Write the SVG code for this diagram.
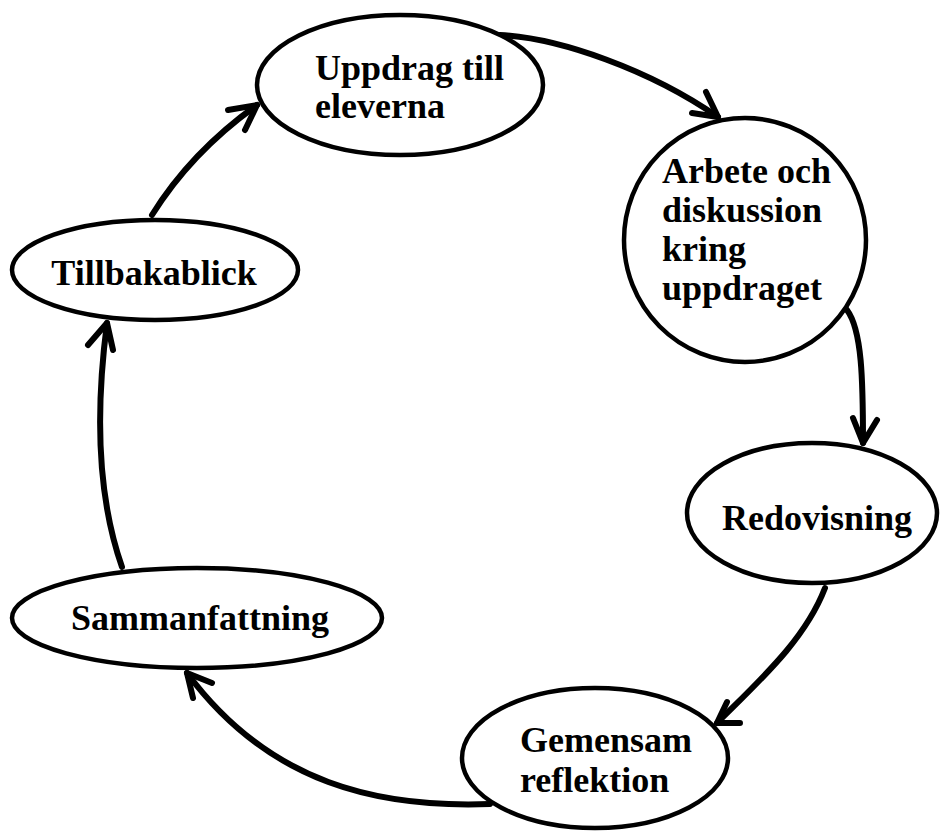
<svg xmlns="http://www.w3.org/2000/svg" width="941" height="831" viewBox="0 0 941 831">
<style>
.node{fill:#fff;stroke:#000;stroke-width:4.5}
.lbl{font-family:"Liberation Serif","Times New Roman",serif;font-weight:bold;font-size:36px;fill:#000}
.c{text-anchor:middle}
.edge{fill:none;stroke:#000;stroke-width:6;stroke-linecap:round;stroke-linejoin:round}
</style>
<rect width="941" height="831" fill="#fff"/>
<g id="connectors">
<path class="edge" d="M500,35 C560,38 650,70 718,117"/>
<path class="edge" d="M706,92 L718,117 L692,113"/>
<path class="edge" d="M847,310 C862,330 863,380 863,443"/>
<path class="edge" d="M853,418 L863,443 L877,420"/>
<path class="edge" d="M825,588 C805,640 760,680 717,723"/>
<path class="edge" d="M727,702 L717,723 L740,723"/>
<path class="edge" d="M490,804 C380,808 270,785 187,673"/>
<path class="edge" d="M193,698 L187,673 L212,683"/>
<path class="edge" d="M122,567 C102,510 93,430 107,323"/>
<path class="edge" d="M88,345 L107,323 L113,350"/>
<path class="edge" d="M152,215 C180,170 215,135 257,105"/>
<path class="edge" d="M228,110 L257,105 L245,130"/>
</g>
<g id="n1">
<ellipse class="node" cx="400" cy="85" rx="143" ry="70"/>
<text class="lbl" x="315" y="80">Uppdrag till</text>
<text class="lbl" x="315" y="118">eleverna</text>
</g>
<g id="n2">
<ellipse class="node" cx="745" cy="240" rx="121" ry="122"/>
<text class="lbl" x="662" y="183">Arbete och</text>
<text class="lbl" x="662" y="222">diskussion</text>
<text class="lbl" x="662" y="261">kring</text>
<text class="lbl" x="662" y="300">uppdraget</text>
</g>
<g id="n3">
<ellipse class="node" cx="812" cy="513" rx="125" ry="70"/>
<text class="lbl c" x="817" y="530">Redovisning</text>
</g>
<g id="n4">
<ellipse class="node" cx="595" cy="758" rx="133" ry="70"/>
<text class="lbl" x="520" y="752">Gemensam</text>
<text class="lbl" x="520" y="792">reflektion</text>
</g>
<g id="n5">
<ellipse class="node" cx="197" cy="618" rx="185" ry="50"/>
<text class="lbl c" x="200" y="630">Sammanfattning</text>
</g>
<g id="n6">
<ellipse class="node" cx="155" cy="270" rx="143" ry="50"/>
<text class="lbl c" x="154" y="285">Tillbakablick</text>
</g>
</svg>
